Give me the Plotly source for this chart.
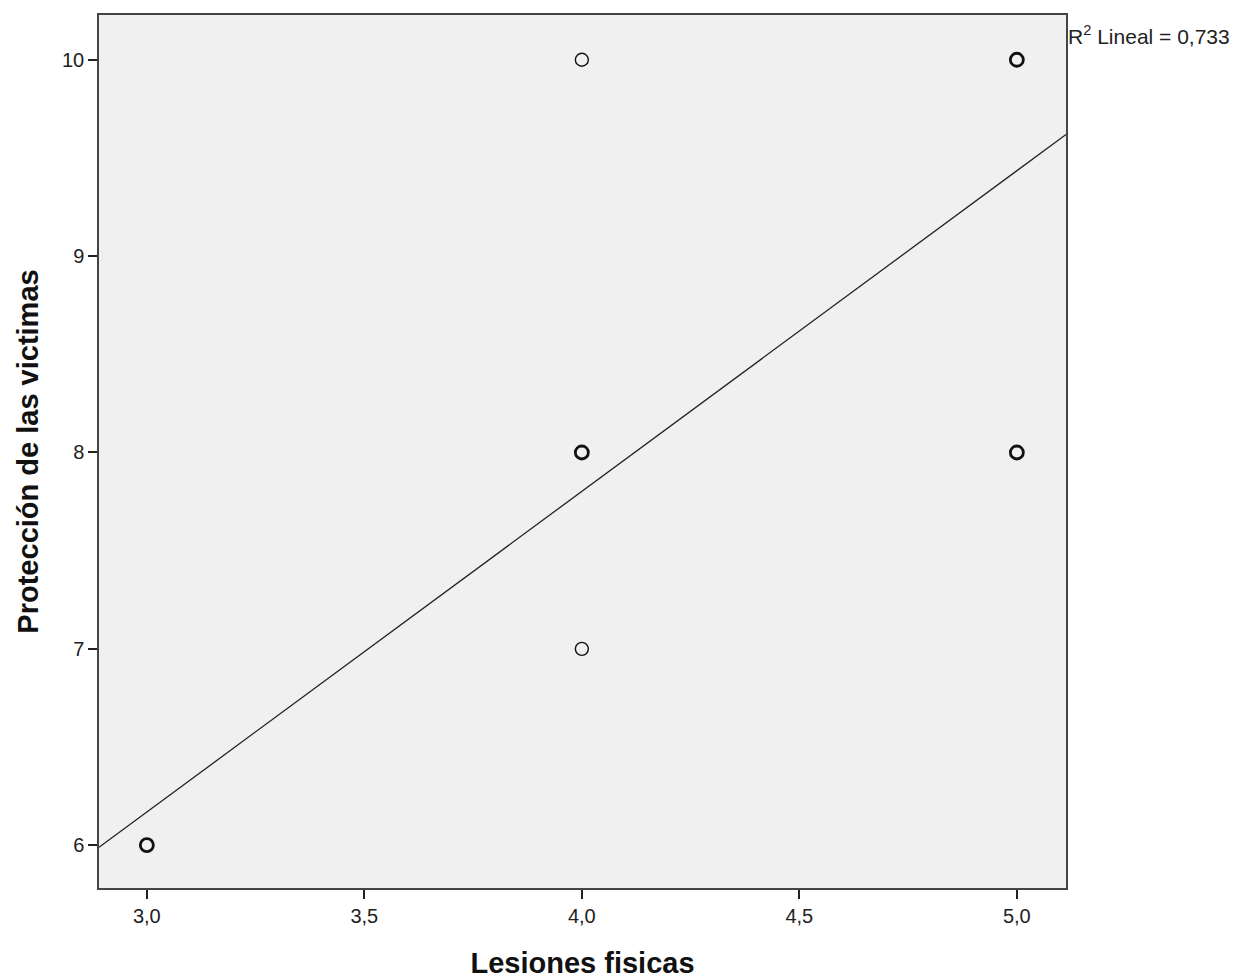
import plotly.graph_objects as go

# datos del diagrama de dispersión
lesiones = [3, 4, 4, 4, 5, 5]
proteccion = [6, 10, 8, 7, 10, 8]
repetidos = [2, 1, 2, 1, 2, 2]   # puntos que se solapan (trazo más grueso)

# recta de ajuste lineal (R2 = 0,733)
intercepto = 1.27
pendiente = 1.633
x_rango = [2.89, 5.113]
y_rango = [5.782, 10.228]

x_ticks = [3.0, 3.5, 4.0, 4.5, 5.0]
x_ticktext = ["3,0", "3,5", "4,0", "4,5", "5,0"]
y_ticks = [6, 7, 8, 9, 10]

fuente = "Liberation Sans, Arial, sans-serif"

fig = go.Figure()

fig.add_trace(go.Scatter(
    x=x_rango,
    y=[intercepto + pendiente * v for v in x_rango],
    mode="lines",
    line=dict(color="#222222", width=1.3),
    showlegend=False,
))

fig.add_trace(go.Scatter(
    x=lesiones,
    y=proteccion,
    mode="markers",
    marker=dict(
        symbol="circle-open",
        size=13,
        color="#111111",
        line=dict(color="#111111", width=[2.8 if r > 1 else 1.4 for r in repetidos]),
    ),
    showlegend=False,
))

# la página tiene un margen de 8 px; el área del gráfico va de (99,13) a (1066,888)
fig.add_annotation(
    text="R<sup>2</sup> Lineal = 0,733",
    x=1.0, xref="paper", xanchor="left",
    y=1 - (33 - 13) / 875, yref="paper", yanchor="middle",
    showarrow=False,
    font=dict(size=21, color="#222222", family=fuente),
)

fig.update_layout(
    width=1242,
    height=980,
    margin=dict(l=91, r=184, t=5, b=100),
    paper_bgcolor="white",
    plot_bgcolor="#F0F0F0",
    font=dict(family=fuente, size=20, color="#222222"),
)

fig.update_xaxes(
    range=x_rango,
    tickvals=x_ticks,
    ticktext=x_ticktext,
    ticks="outside",
    ticklen=9,
    tickwidth=1.5,
    tickcolor="#222222",
    showgrid=False,
    zeroline=False,
    showline=True,
    linecolor="#444444",
    linewidth=1.5,
    mirror=True,
    title=dict(text="<b>Lesiones fisicas</b>", font=dict(size=29, color="#111111"), standoff=27),
)

fig.update_yaxes(
    range=y_rango,
    tickvals=y_ticks,
    ticks="outside",
    ticklen=9,
    tickwidth=1.5,
    tickcolor="#222222",
    showgrid=False,
    zeroline=False,
    showline=True,
    linecolor="#444444",
    linewidth=1.5,
    mirror=True,
    title=dict(text="<b>Protección de las victimas</b>", font=dict(size=29, color="#111111"), standoff=15),
)

fig.write_html("out.html")
